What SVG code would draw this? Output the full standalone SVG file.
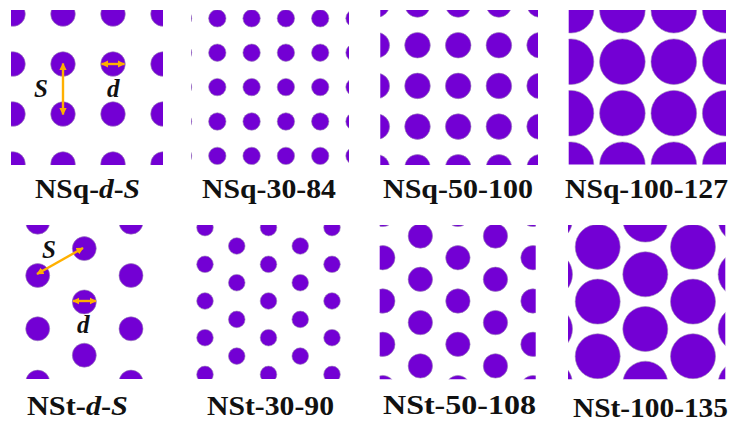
<svg xmlns="http://www.w3.org/2000/svg" width="734" height="423" viewBox="0 0 734 423">
<style>
.p circle{fill:#7300d4;stroke:#9a86b4;stroke-width:0.6}
.lbl{font-family:'Liberation Serif','Times New Roman',serif;font-weight:700;font-size:27px;fill:#111}
.sym{font-family:'Liberation Serif','Times New Roman',serif;font-weight:700;font-style:italic;font-size:25px;fill:#111}
.arr{stroke:#ffb000;stroke-width:2.4;fill:none;marker-start:url(#ah);marker-end:url(#ah)}
</style>
<defs>
<marker id="ah" viewBox="0 0 10 10" refX="9" refY="5" markerWidth="3" markerHeight="3" orient="auto-start-reverse" markerUnits="strokeWidth">
<path d="M0,0 L10,5 L0,10 Z" fill="#ffb000"/>
</marker>
<clipPath id="c1"><rect x="11" y="10" width="152" height="155"/></clipPath>
<clipPath id="c2"><rect x="191" y="10" width="158" height="155"/></clipPath>
<clipPath id="c3"><rect x="380.3" y="10" width="157.7" height="155"/></clipPath>
<clipPath id="c4"><rect x="568.7" y="10" width="157.3" height="154.5"/></clipPath>
<clipPath id="c5"><rect x="11" y="225" width="152" height="154"/></clipPath>
<clipPath id="c6"><rect x="191" y="225" width="158" height="154"/></clipPath>
<clipPath id="c7"><rect x="379.7" y="225" width="156" height="154.3"/></clipPath>
<clipPath id="c8"><rect x="568" y="225" width="157.3" height="154.3"/></clipPath>
</defs>
<rect width="734" height="423" fill="#fff"/>

<g id="NSq-d-S">
<g class="p" clip-path="url(#c1)">
<circle cx="13" cy="14" r="12.3"/><circle cx="63" cy="14" r="12.3"/><circle cx="113" cy="14" r="12.3"/><circle cx="163" cy="14" r="12.3"/>
<circle cx="13" cy="64" r="12.3"/><circle cx="63" cy="64" r="12.3"/><circle cx="113" cy="64" r="12.3"/><circle cx="163" cy="64" r="12.3"/>
<circle cx="13" cy="114" r="12.3"/><circle cx="63" cy="114" r="12.3"/><circle cx="113" cy="114" r="12.3"/><circle cx="163" cy="114" r="12.3"/>
<circle cx="13" cy="164" r="12.3"/><circle cx="63" cy="164" r="12.3"/><circle cx="113" cy="164" r="12.3"/><circle cx="163" cy="164" r="12.3"/>
</g>
<text class="sym" x="34" y="97">S</text>
<text class="sym" x="107" y="97">d</text>
<text class="lbl" x="35" y="198" textLength="105" lengthAdjust="spacingAndGlyphs">NSq-<tspan font-style="italic">d</tspan>-<tspan font-style="italic">S</tspan></text>
</g>

<g id="NSq-30-84">
<g class="p" clip-path="url(#c2)">
<circle cx="183" cy="18.3" r="8.7"/><circle cx="217.3" cy="18.3" r="8.7"/><circle cx="251.6" cy="18.3" r="8.7"/><circle cx="285.9" cy="18.3" r="8.7"/><circle cx="320.2" cy="18.3" r="8.7"/><circle cx="354.5" cy="18.3" r="8.7"/>
<circle cx="183" cy="52.7" r="8.7"/><circle cx="217.3" cy="52.7" r="8.7"/><circle cx="251.6" cy="52.7" r="8.7"/><circle cx="285.9" cy="52.7" r="8.7"/><circle cx="320.2" cy="52.7" r="8.7"/><circle cx="354.5" cy="52.7" r="8.7"/>
<circle cx="183" cy="87.1" r="8.7"/><circle cx="217.3" cy="87.1" r="8.7"/><circle cx="251.6" cy="87.1" r="8.7"/><circle cx="285.9" cy="87.1" r="8.7"/><circle cx="320.2" cy="87.1" r="8.7"/><circle cx="354.5" cy="87.1" r="8.7"/>
<circle cx="183" cy="121.5" r="8.7"/><circle cx="217.3" cy="121.5" r="8.7"/><circle cx="251.6" cy="121.5" r="8.7"/><circle cx="285.9" cy="121.5" r="8.7"/><circle cx="320.2" cy="121.5" r="8.7"/><circle cx="354.5" cy="121.5" r="8.7"/>
<circle cx="183" cy="155.9" r="8.7"/><circle cx="217.3" cy="155.9" r="8.7"/><circle cx="251.6" cy="155.9" r="8.7"/><circle cx="285.9" cy="155.9" r="8.7"/><circle cx="320.2" cy="155.9" r="8.7"/><circle cx="354.5" cy="155.9" r="8.7"/>
</g>
<text class="lbl" x="202" y="198" textLength="134" lengthAdjust="spacingAndGlyphs">NSq-30-84</text>
</g>

<g id="NSq-50-100">
<g class="p" clip-path="url(#c3)">
<circle cx="376.8" cy="4.5" r="12.8"/><circle cx="417.5" cy="4.5" r="12.8"/><circle cx="458.2" cy="4.5" r="12.8"/><circle cx="498.9" cy="4.5" r="12.8"/><circle cx="539.6" cy="4.5" r="12.8"/>
<circle cx="376.8" cy="45.2" r="12.8"/><circle cx="417.5" cy="45.2" r="12.8"/><circle cx="458.2" cy="45.2" r="12.8"/><circle cx="498.9" cy="45.2" r="12.8"/><circle cx="539.6" cy="45.2" r="12.8"/>
<circle cx="376.8" cy="85.9" r="12.8"/><circle cx="417.5" cy="85.9" r="12.8"/><circle cx="458.2" cy="85.9" r="12.8"/><circle cx="498.9" cy="85.9" r="12.8"/><circle cx="539.6" cy="85.9" r="12.8"/>
<circle cx="376.8" cy="126.6" r="12.8"/><circle cx="417.5" cy="126.6" r="12.8"/><circle cx="458.2" cy="126.6" r="12.8"/><circle cx="498.9" cy="126.6" r="12.8"/><circle cx="539.6" cy="126.6" r="12.8"/>
<circle cx="376.8" cy="167.3" r="12.8"/><circle cx="417.5" cy="167.3" r="12.8"/><circle cx="458.2" cy="167.3" r="12.8"/><circle cx="498.9" cy="167.3" r="12.8"/><circle cx="539.6" cy="167.3" r="12.8"/>
</g>
<text class="lbl" x="383" y="198" textLength="150" lengthAdjust="spacingAndGlyphs">NSq-50-100</text>
</g>

<g id="NSq-100-127">
<g class="p" clip-path="url(#c4)">
<circle cx="571" cy="10.2" r="22.8"/><circle cx="622.4" cy="10.2" r="22.8"/><circle cx="673.8" cy="10.2" r="22.8"/><circle cx="725.2" cy="10.2" r="22.8"/>
<circle cx="571" cy="61.7" r="22.8"/><circle cx="622.4" cy="61.7" r="22.8"/><circle cx="673.8" cy="61.7" r="22.8"/><circle cx="725.2" cy="61.7" r="22.8"/>
<circle cx="571" cy="113.2" r="22.8"/><circle cx="622.4" cy="113.2" r="22.8"/><circle cx="673.8" cy="113.2" r="22.8"/><circle cx="725.2" cy="113.2" r="22.8"/>
<circle cx="571" cy="164.7" r="22.8"/><circle cx="622.4" cy="164.7" r="22.8"/><circle cx="673.8" cy="164.7" r="22.8"/><circle cx="725.2" cy="164.7" r="22.8"/>
</g>
<text class="lbl" x="565" y="198" textLength="163" lengthAdjust="spacingAndGlyphs">NSq-100-127</text>
</g>

<g id="NSt-d-S">
<g class="p" clip-path="url(#c5)">
<circle cx="37.7" cy="222.2" r="12"/><circle cx="131" cy="222.2" r="12"/>
<circle cx="37.7" cy="275.5" r="12"/><circle cx="131" cy="275.5" r="12"/>
<circle cx="37.7" cy="328.8" r="12"/><circle cx="131" cy="328.8" r="12"/>
<circle cx="37.7" cy="382.1" r="12"/><circle cx="131" cy="382.1" r="12"/>
<circle cx="84.3" cy="248.6" r="12"/><circle cx="84.3" cy="301.9" r="12"/><circle cx="84.3" cy="355.2" r="12"/>
</g>
<text class="sym" x="42" y="257.5">S</text>
<text class="sym" x="77" y="332.5">d</text>
<text class="lbl" x="27" y="415" textLength="101" lengthAdjust="spacingAndGlyphs">NSt-<tspan font-style="italic">d</tspan>-<tspan font-style="italic">S</tspan></text>
</g>

<g id="NSt-30-90">
<g class="p" clip-path="url(#c6)">
<circle cx="205" cy="227.6" r="8.3"/><circle cx="268.5" cy="227.6" r="8.3"/><circle cx="332" cy="227.6" r="8.3"/>
<circle cx="205" cy="264.3" r="8.3"/><circle cx="268.5" cy="264.3" r="8.3"/><circle cx="332" cy="264.3" r="8.3"/>
<circle cx="205" cy="301" r="8.3"/><circle cx="268.5" cy="301" r="8.3"/><circle cx="332" cy="301" r="8.3"/>
<circle cx="205" cy="337.7" r="8.3"/><circle cx="268.5" cy="337.7" r="8.3"/><circle cx="332" cy="337.7" r="8.3"/>
<circle cx="205" cy="374.4" r="8.3"/><circle cx="268.5" cy="374.4" r="8.3"/><circle cx="332" cy="374.4" r="8.3"/>
<circle cx="236.75" cy="246" r="8.3"/><circle cx="300.25" cy="246" r="8.3"/>
<circle cx="236.75" cy="282.7" r="8.3"/><circle cx="300.25" cy="282.7" r="8.3"/>
<circle cx="236.75" cy="319.4" r="8.3"/><circle cx="300.25" cy="319.4" r="8.3"/>
<circle cx="236.75" cy="356.1" r="8.3"/><circle cx="300.25" cy="356.1" r="8.3"/>
</g>
<text class="lbl" x="207" y="415" textLength="127" lengthAdjust="spacingAndGlyphs">NSt-30-90</text>
</g>

<g id="NSt-50-108">
<g class="p" clip-path="url(#c7)">
<circle cx="382.8" cy="214.4" r="12.2"/><circle cx="457.9" cy="214.4" r="12.2"/><circle cx="533" cy="214.4" r="12.2"/>
<circle cx="382.8" cy="257.7" r="12.2"/><circle cx="457.9" cy="257.7" r="12.2"/><circle cx="533" cy="257.7" r="12.2"/>
<circle cx="382.8" cy="301" r="12.2"/><circle cx="457.9" cy="301" r="12.2"/><circle cx="533" cy="301" r="12.2"/>
<circle cx="382.8" cy="344.3" r="12.2"/><circle cx="457.9" cy="344.3" r="12.2"/><circle cx="533" cy="344.3" r="12.2"/>
<circle cx="382.8" cy="387.6" r="12.2"/><circle cx="457.9" cy="387.6" r="12.2"/><circle cx="533" cy="387.6" r="12.2"/>
<circle cx="420.35" cy="236" r="12.2"/><circle cx="495.45" cy="236" r="12.2"/>
<circle cx="420.35" cy="279.3" r="12.2"/><circle cx="495.45" cy="279.3" r="12.2"/>
<circle cx="420.35" cy="322.6" r="12.2"/><circle cx="495.45" cy="322.6" r="12.2"/>
<circle cx="420.35" cy="365.9" r="12.2"/><circle cx="495.45" cy="365.9" r="12.2"/>
</g>
<text class="lbl" x="383" y="414" textLength="153" lengthAdjust="spacingAndGlyphs">NSt-50-108</text>
</g>

<g id="NSt-100-135">
<g class="p" clip-path="url(#c8)">
<circle cx="550" cy="219.6" r="22.5"/><circle cx="645.3" cy="219.6" r="22.5"/><circle cx="740.6" cy="219.6" r="22.5"/>
<circle cx="550" cy="274.3" r="22.5"/><circle cx="645.3" cy="274.3" r="22.5"/><circle cx="740.6" cy="274.3" r="22.5"/>
<circle cx="550" cy="329" r="22.5"/><circle cx="645.3" cy="329" r="22.5"/><circle cx="740.6" cy="329" r="22.5"/>
<circle cx="550" cy="383.7" r="22.5"/><circle cx="645.3" cy="383.7" r="22.5"/><circle cx="740.6" cy="383.7" r="22.5"/>
<circle cx="597.7" cy="246.9" r="22.5"/><circle cx="693" cy="246.9" r="22.5"/>
<circle cx="597.7" cy="301.6" r="22.5"/><circle cx="693" cy="301.6" r="22.5"/>
<circle cx="597.7" cy="356.3" r="22.5"/><circle cx="693" cy="356.3" r="22.5"/>
</g>
<text class="lbl" x="573" y="417" textLength="155" lengthAdjust="spacingAndGlyphs">NSt-100-135</text>
</g>

<g id="dimension-arrows">
<line class="arr" x1="63" y1="63.5" x2="63" y2="114.5"/>
<line class="arr" x1="101.5" y1="64" x2="124.5" y2="64"/>
<line class="arr" x1="37" y1="274" x2="83" y2="248"/>
<line class="arr" x1="73" y1="301" x2="96" y2="301"/>
</g>
</svg>
